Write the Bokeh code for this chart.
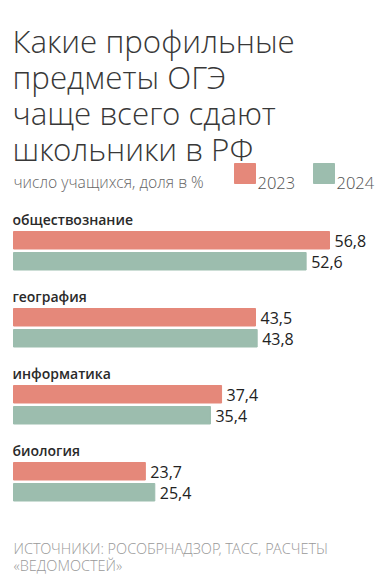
from bokeh.plotting import figure
from bokeh.models import Range1d, ColumnDataSource
from bokeh.core.properties import value
from bokeh.embed import file_html
from bokeh.resources import INLINE

# ---- data ----
categories = ["обществознание", "география", "информатика", "биология"]
values_2023 = [56.8, 43.5, 37.4, 23.7]
values_2024 = [52.6, 43.8, 35.4, 25.4]
labels_2023 = ["56,8", "43,5", "37,4", "23,7"]
labels_2024 = ["52,6", "43,8", "35,4", "25,4"]
series_names = ["2023", "2024"]
title_lines = ["Какие профильные", "предметы ОГЭ", "чаще всего сдают", "школьники в РФ"]
subtitle = "число учащихся, доля в %"
source_lines = ["ИСТОЧНИКИ: РОСОБРНАДЗОР, ТАСС, РАСЧЕТЫ", "«ВЕДОМОСТЕЙ»"]

# ---- style ----
C23 = "#E5887A"
C24 = "#9CBDAE"
W, H = 387, 584
LIGHT = "Open Sans Light"
REG = "Open Sans"
SEMI = "Open Sans SemiBold"

# y is measured in pixels from the top; x in percent
px_per_unit = 316 / 56.8
left_px = 13
x0 = -left_px / px_per_unit
p = figure(width=W, height=H, output_backend="svg", toolbar_location=None,
           x_range=Range1d(x0, x0 + W / px_per_unit),
           y_range=Range1d(H, 0), min_border=0)
p.axis.visible = False
p.grid.visible = False
p.outline_line_color = None
p.background_fill_color = "white"
p.border_fill_color = "white"

group_top = 231.0
group_step = 77.0
bar_h = 17.5
bar_gap = 3.5
n = len(categories)
y23 = [group_top + i * group_step + bar_h / 2 for i in range(n)]
y24 = [group_top + i * group_step + bar_h * 1.5 + bar_gap for i in range(n)]
ylab = [group_top - 12 + i * group_step for i in range(n)]

src = ColumnDataSource(dict(cat=categories, v23=values_2023, v24=values_2024,
                            l23=labels_2023, l24=labels_2024,
                            y23=y23, y24=y24, ylab=ylab, zero=[0] * n))

p.hbar(y="y23", left=0, right="v23", height=bar_h, color=C23, source=src)
p.hbar(y="y24", left=0, right="v24", height=bar_h, color=C24, source=src)

p.text(x="v23", y="y23", text="l23", source=src, x_offset=5, y_offset=1,
       text_font=value(REG), text_font_size="16px", text_color="#222222",
       text_baseline="middle", text_align="left")
p.text(x="v24", y="y24", text="l24", source=src, x_offset=5, y_offset=1,
       text_font=value(REG), text_font_size="16px", text_color="#222222",
       text_baseline="middle", text_align="left")
p.text(x="zero", y="ylab", text="cat", source=src, x_offset=-1,
       text_font=value(SEMI), text_font_size="14px", text_color="#2a2a2a",
       text_baseline="alphabetic", text_align="left")

# title
p.text(x=[0] * 4, y=[40 + 36.3 * i for i in range(4)], text=title_lines,
       x_offset=-1, text_font=value(LIGHT), text_font_size="31.3px",
       text_color="#383838", text_baseline="alphabetic")
# subtitle
p.text(x=[0], y=[181], text=[subtitle], text_font=value(LIGHT),
       text_font_size="15.7px", text_color="#666666", text_baseline="alphabetic")
# legend
leg_x = [(234 - left_px) / px_per_unit, (313 - left_px) / px_per_unit]
p.rect(x=[lx + 10.5 / px_per_unit for lx in leg_x], y=[173, 173],
       width=21, height=20, width_units="screen", height_units="screen",
       color=[C23, C24])
p.text(x=leg_x, y=[182, 182], text=series_names, x_offset=23,
       text_font=value(LIGHT), text_font_size="16.5px", text_color="#555555",
       text_baseline="alphabetic")
# source
p.text(x=[0, 0], y=[548, 565], text=source_lines, text_font=value(LIGHT),
       text_font_size="14.5px", text_color="#999999", text_baseline="alphabetic")

open("out.html", "w").write(file_html(p, INLINE))
